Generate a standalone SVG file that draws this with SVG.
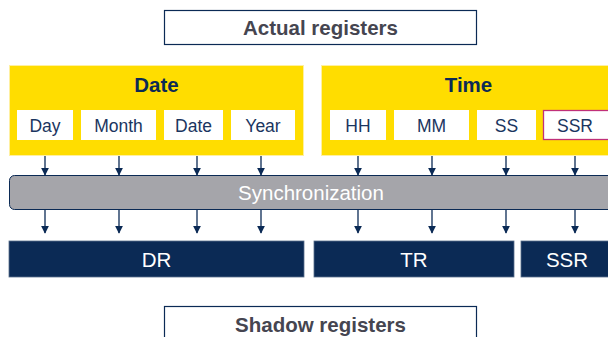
<svg xmlns="http://www.w3.org/2000/svg" width="608" height="337" viewBox="0 0 608 337">
<defs>
<style>
.lbl{fill:#fff;stroke:#0b2a55;stroke-width:1.2}
.grp{fill:#ffdd00;stroke:#fff0a0;stroke-width:1}
.fld{fill:#fff}
.reg{fill:#0b2a55;stroke:#5a6f8c;stroke-width:0.8}
.t{font-family:"Liberation Sans",Arial,sans-serif;text-anchor:middle}
.title{font-size:20.5px;font-weight:bold;fill:#454550}
.gt{font-size:20.5px;font-weight:bold;fill:#0b2a55}
.ft{font-size:17.5px;fill:#1a3560}
.wt{font-size:20.5px;fill:#fff}
.ar{stroke:#0b2a55;stroke-width:1.3;fill:none;marker-end:url(#ah)}
</style>
<marker id="ah" viewBox="0 0 10 10" refX="9" refY="5" markerWidth="8" markerHeight="8" markerUnits="userSpaceOnUse" orient="auto">
<path d="M0,0 L10,5 L0,10 z" fill="#0b2a55"/>
</marker>
</defs>
<rect width="608" height="337" fill="#fff"/>

<g id="actual">
<rect class="lbl" x="164.5" y="10.5" width="312" height="34"/>
<text class="t title" x="320.5" y="35">Actual registers</text>
</g>

<g id="date">
<rect class="grp" x="9.5" y="65.5" width="294" height="90"/>
<text class="t gt" x="156.5" y="92">Date</text>
<g id="day"><rect class="fld" x="17" y="110" width="56" height="30"/><text class="t ft" x="45" y="132">Day</text></g>
<g id="month"><rect class="fld" x="81" y="110" width="75" height="30"/><text class="t ft" x="118.5" y="132">Month</text></g>
<g id="datef"><rect class="fld" x="164" y="110" width="59" height="30"/><text class="t ft" x="193.5" y="132">Date</text></g>
<g id="year"><rect class="fld" x="231" y="110" width="64" height="30"/><text class="t ft" x="263" y="132">Year</text></g>
</g>

<g id="time">
<rect class="grp" x="321.5" y="65.5" width="290" height="90"/>
<text class="t gt" x="468.5" y="92">Time</text>
<g id="hh"><rect class="fld" x="330" y="110" width="56" height="30"/><text class="t ft" x="358" y="132">HH</text></g>
<g id="mm"><rect class="fld" x="394" y="110" width="75" height="30"/><text class="t ft" x="431.5" y="132">MM</text></g>
<g id="ss"><rect class="fld" x="477" y="110" width="59" height="30"/><text class="t ft" x="506.5" y="132">SS</text></g>
<g id="ssrf"><rect x="543.5" y="110.5" width="66" height="29" fill="#fff" stroke="#c0307a" stroke-width="1.3"/><text class="t ft" x="575" y="132">SSR</text></g>
</g>

<g id="sync">
<rect x="9.5" y="175.5" width="606" height="34" rx="5" fill="#a5a5aa" stroke="#0b2a55" stroke-width="1"/>
<text class="t wt" x="311" y="200">Synchronization</text>
</g>

<g id="dr"><rect class="reg" x="9" y="241" width="295" height="36"/><text class="t wt" x="156.5" y="267">DR</text></g>
<g id="tr"><rect class="reg" x="314" y="241" width="200" height="36"/><text class="t wt" x="414" y="267">TR</text></g>
<g id="ssr"><rect class="reg" x="521" y="241" width="95" height="36"/><text class="t wt" x="567" y="267">SSR</text></g>

<g id="shadow">
<rect class="lbl" x="164.5" y="306.5" width="312" height="40"/>
<text class="t title" x="320.5" y="332">Shadow registers</text>
</g>

<g id="connectors">
<path class="ar" d="M45,156 V175"/>
<path class="ar" d="M119,156 V175"/>
<path class="ar" d="M197,156 V175"/>
<path class="ar" d="M261,156 V175"/>
<path class="ar" d="M358,156 V175"/>
<path class="ar" d="M432,156 V175"/>
<path class="ar" d="M506,156 V175"/>
<path class="ar" d="M575,156 V175"/>
<path class="ar" d="M45,210 V233"/>
<path class="ar" d="M119,210 V233"/>
<path class="ar" d="M197,210 V233"/>
<path class="ar" d="M261,210 V233"/>
<path class="ar" d="M358,210 V233"/>
<path class="ar" d="M432,210 V233"/>
<path class="ar" d="M506,210 V233"/>
<path class="ar" d="M575,210 V233"/>
</g>
</svg>
